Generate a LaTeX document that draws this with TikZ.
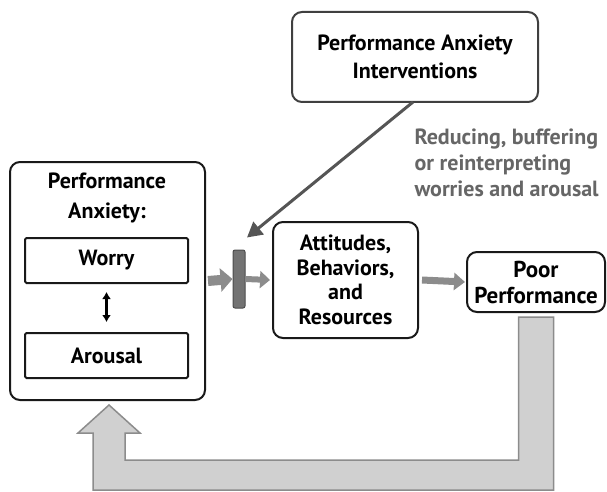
\documentclass[tikz,border=0pt]{standalone}
\usepackage{fontspec}
\setmainfont{PT Sans}
\usetikzlibrary{arrows.meta, positioning, calc}

\definecolor{lineGray}{HTML}{555555}
\definecolor{arrowGray}{HTML}{8C8C8C}
\definecolor{fillGray}{HTML}{D0D0D0}
\definecolor{noteGray}{HTML}{666666}

\begin{document}
\begin{tikzpicture}[x=1pt, y=-1pt,
    txt/.style={font=\bfseries\fontsize{22}{24.5}\selectfont, align=center},
    rbox/.style={txt, draw=black!90, line width=2pt, rounded corners=10pt, inner sep=0pt, outer sep=0pt},
    sbox/.style={txt, draw=black!90, line width=2pt, rounded corners=1.5pt, minimum width=163pt, minimum height=45pt, inner sep=0pt, outer sep=0pt},
    flow/.style={arrowGray, line cap=butt},
    fat/.style={draw=arrowGray, fill=fillGray, line width=1.5pt, line join=miter}]

\useasboundingbox (0,0) rectangle (607,492);

% Interventions (top)
\node[rbox, draw=black!75, minimum width=246pt, minimum height=90pt,
      font=\bfseries\fontsize{22}{28}\selectfont] (interv) at (415,57) {Performance Anxiety\\Interventions};
\node[txt, text=noteGray, align=left, anchor=north west,
      font=\bfseries\fontsize{22}{26}\selectfont] (note) at (411,125) {Reducing, buffering\\or reinterpreting\\worries and arousal};

% Performance anxiety frame
\node[rbox, minimum width=195pt, minimum height=238pt] (anx) at (107.5,281) {};
\node[txt, font=\bfseries\fontsize{22}{30}\selectfont] (anxtitle) at (107,198) {Performance\\Anxiety:};
\node[sbox] (worry) at (106.5,260.5) {Worry};
\node[sbox] (arousal) at (106.5,355.5) {Arousal};
\draw[{Latex[length=7pt,width=9pt]}-{Latex[length=7pt,width=9pt]}, line width=2.5pt]
    ([yshift=-9pt]worry.south) -- ([yshift=11pt]arousal.north);

% Gate and the middle row
\node[draw=black!70, fill=black!55, line width=1pt, rounded corners=2pt,
      minimum width=12pt, minimum height=58pt, inner sep=0pt] (gate) at (239,279) {};
\node[rbox, minimum width=145pt, minimum height=116pt] (abr) at (345.5,280) {Attitudes,\\Behaviors,\\and\\Resources};
\node[rbox, minimum width=138pt, minimum height=60pt,
      font=\bfseries\fontsize{23}{26}\selectfont] (poor) at (536,282) {Poor\\Performance};

\draw[flow, line width=10pt, -{Triangle[length=12pt,width=23pt]}] ([xshift=3pt]anx.east) -- (gate.west);
\draw[flow, line width=6pt, -{Triangle[length=10pt,width=17pt]}] (gate.east) -- ([xshift=-3pt]abr.west);
\draw[flow, line width=7pt, -{Triangle[length=11pt,width=17pt]}] ([xshift=4pt]abr.east) -- ([xshift=-2pt]poor.west);

% Intervention acts on the gate
\draw[lineGray, line width=3pt, -{Triangle[length=15pt,width=16pt]}]
    ([xshift=-2pt]interv.south) -- ($(gate.north)+(8,-12)$);

% Feedback loop
\coordinate (fbtop) at ($(poor.south)+(0,5)$);
\coordinate (fbtip) at ($(anx.south)+(1.5,5)$);
\coordinate (fbR) at ($(fbtop)+(17.5,173)$);
\draw[fat] ($(fbtop)+(-17.5,0)$) -- ($(fbtop)+(17.5,0)$) -- (fbR)
    -- ($(fbR -| fbtip)+(-16,0)$) -- ($(fbtip)+(-16,28)$) -- ($(fbtip)+(-31,28)$)
    -- (fbtip) -- ($(fbtip)+(31,28)$) -- ($(fbtip)+(16,28)$)
    -- ($(fbtip |- fbR)+(16,-30)$) -- ($(fbtop |- fbR)+(-17.5,-30)$) -- cycle;
\end{tikzpicture}
\end{document}
